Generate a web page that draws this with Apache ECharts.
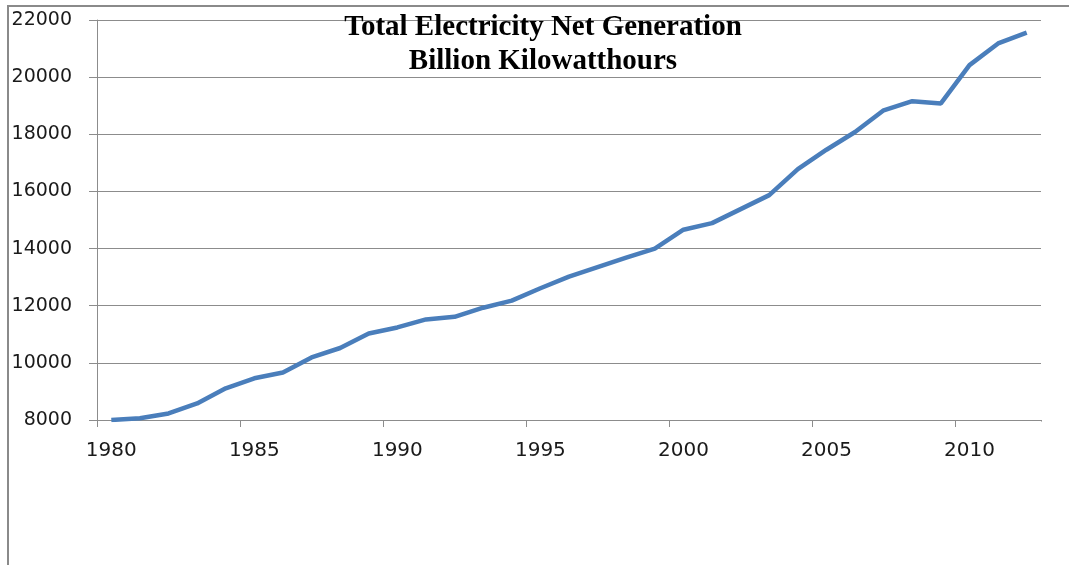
<!DOCTYPE html>
<html>
<head>
<meta charset="utf-8">
<script src="https://cdn.jsdelivr.net/npm/echarts@6/dist/echarts.min.js"></script>
<style>html,body{margin:0;padding:0;background:#fff;}#c{width:1069px;height:565px;}</style>
</head>
<body>
<div id="c"></div>
<script>
const years = ['1980','1981','1982','1983','1984','1985','1986','1987','1988','1989','1990','1991','1992','1993','1994','1995','1996','1997','1998','1999','2000','2001','2002','2003','2004','2005','2006','2007','2008','2009','2010','2011','2012'];
const generation = [8000,8060,8230,8580,9110,9460,9660,10190,10520,11030,11240,11520,11610,11930,12180,12610,13020,13350,13680,14000,14660,14890,15380,15870,16780,17460,18080,18840,19160,19080,20420,21180,21560];
const titleText = 'Total Electricity Net Generation\nBillion Kilowatthours';
const yMin = 8000, yMax = 22000, yStep = 2000;

const chart = echarts.init(document.getElementById('c'));
chart.setOption({
  animation: false,
  backgroundColor: '#fff',
  graphic: [{
    type: 'rect', z: -1,
    shape: {x: 8, y: 6, width: 3000, height: 3000},
    style: {fill: 'none', stroke: '#8a8a8a', lineWidth: 2}
  }, {
    type: 'rect', z: 100,
    shape: {x: 1038, y: 421.5, width: 6, height: 10},
    style: {fill: '#fff', stroke: null}
  }],
  title: {
    text: titleText,
    left: 538, top: 6, textAlign: 'center',
    textStyle: {fontFamily: 'Liberation Serif', fontWeight: 'bold', fontSize: 29, lineHeight: 34, color: '#000'}
  },
  grid: {left: 97, right: 28, top: 20, bottom: 145, containLabel: false},
  xAxis: {
    type: 'category', data: years, boundaryGap: true,
    axisLine: {show: true, lineStyle: {color: '#8c8c8c', width: 1}},
    axisTick: {show: true, interval: 4, length: 7, lineStyle: {color: '#8c8c8c'}},
    axisLabel: {interval: 4, margin: 21, fontFamily: 'DejaVu Sans', fontSize: 20, color: '#1a1a1a'},
    splitLine: {show: false}
  },
  yAxis: {
    type: 'value', min: yMin, max: yMax, interval: yStep,
    axisLine: {show: true, lineStyle: {color: '#8c8c8c', width: 1}},
    axisTick: {show: true, length: 8, lineStyle: {color: '#8c8c8c'}},
    axisLabel: {margin: 25, fontFamily: 'DejaVu Sans', fontSize: 19, color: '#1a1a1a', formatter: function (v) { return String(v); }},
    splitLine: {show: true, lineStyle: {color: '#8c8c8c', width: 1}}
  },
  series: [{
    type: 'line', data: generation, showSymbol: false, symbol: 'none',
    lineStyle: {color: '#4a7ebb', width: 4.5}
  }]
});
</script>
</body>
</html>
